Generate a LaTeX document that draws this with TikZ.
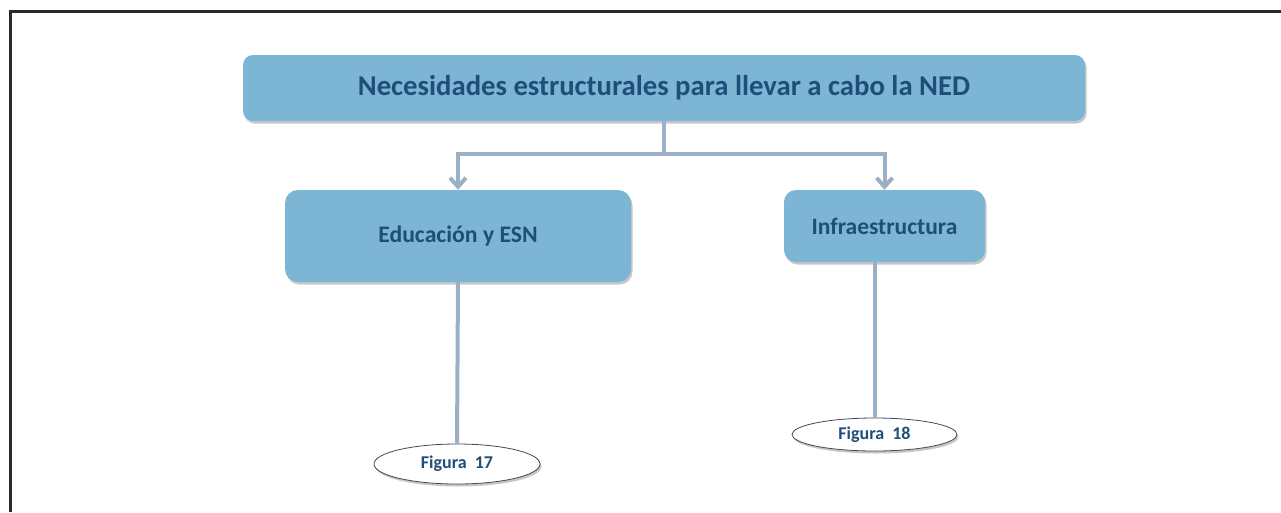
\documentclass[tikz,border=0pt]{standalone}
\usepackage{fontspec}
\setmainfont{Carlito}
\usetikzlibrary{shapes.geometric,shadows,arrows.meta}
\definecolor{boxfill}{HTML}{7DB5D5}
\definecolor{txtblue}{HTML}{1F4E79}
\definecolor{conn}{HTML}{9BB0C4}
\definecolor{ellline}{HTML}{3A4A60}
\definecolor{frame}{HTML}{2A2A2A}
\tikzset{
  bluebox/.style={draw=none, fill=boxfill, inner sep=0pt, text=txtblue, font=\bfseries,
    drop shadow={shadow xshift=1.5pt, shadow yshift=-2.5pt, fill=black, opacity=0.22}},
  figell/.style={ellipse, draw=ellline, line width=0.8pt, fill=white, inner sep=0pt,
    text=txtblue, font=\bfseries\fontsize{18}{21}\selectfont,
    drop shadow={shadow xshift=1.5pt, shadow yshift=-2.5pt, fill=black, opacity=0.22}},
  connector/.style={draw=conn, line width=4pt},
  arrowconn/.style={connector, -{Straight Barb[length=9pt,width=16pt]}}
}
\begin{document}
\begin{tikzpicture}[x=1pt,y=-1pt]
\useasboundingbox (0,0) rectangle (1281,512);
% frame
\draw[frame, line width=3pt] (10.5,512) -- (10.5,11.5) -- (1281,11.5);
% nodes
\node[bluebox, rounded corners=10pt, minimum width=842pt, minimum height=66pt,
  font=\bfseries\fontsize{28.7}{32}\selectfont] (top) at (664,88)
  {Necesidades estructurales para llevar a cabo la NED};
\node[bluebox, rounded corners=13pt, minimum width=346pt, minimum height=92pt,
  font=\bfseries\fontsize{23.7}{27}\selectfont] (edu) at (458,236) {\raisebox{-4pt}{Educación y ESN}};
\node[bluebox, rounded corners=12pt, minimum width=201pt, minimum height=72pt,
  font=\bfseries\fontsize{23.5}{27}\selectfont] (inf) at (884.5,226) {Infraestructura};
\node[figell, minimum width=166pt, minimum height=40pt] (f17) at (457,464) {\raisebox{-1pt}{Figura\ \ 17}};
\node[figell, minimum width=165pt, minimum height=33pt] (f18) at (874.5,434.5) {Figura\ \ 18};
% connectors
\coordinate (split) at (664,154);
\draw[connector] (top.south) -- (split);
\draw[arrowconn] (split) -| (edu.north);
\draw[arrowconn] (split) -| (inf.north);
\draw[connector] (edu.south) -- (f17.north);
\draw[connector] (f18.north |- inf.south) -- (f18.north);
\end{tikzpicture}
\end{document}
